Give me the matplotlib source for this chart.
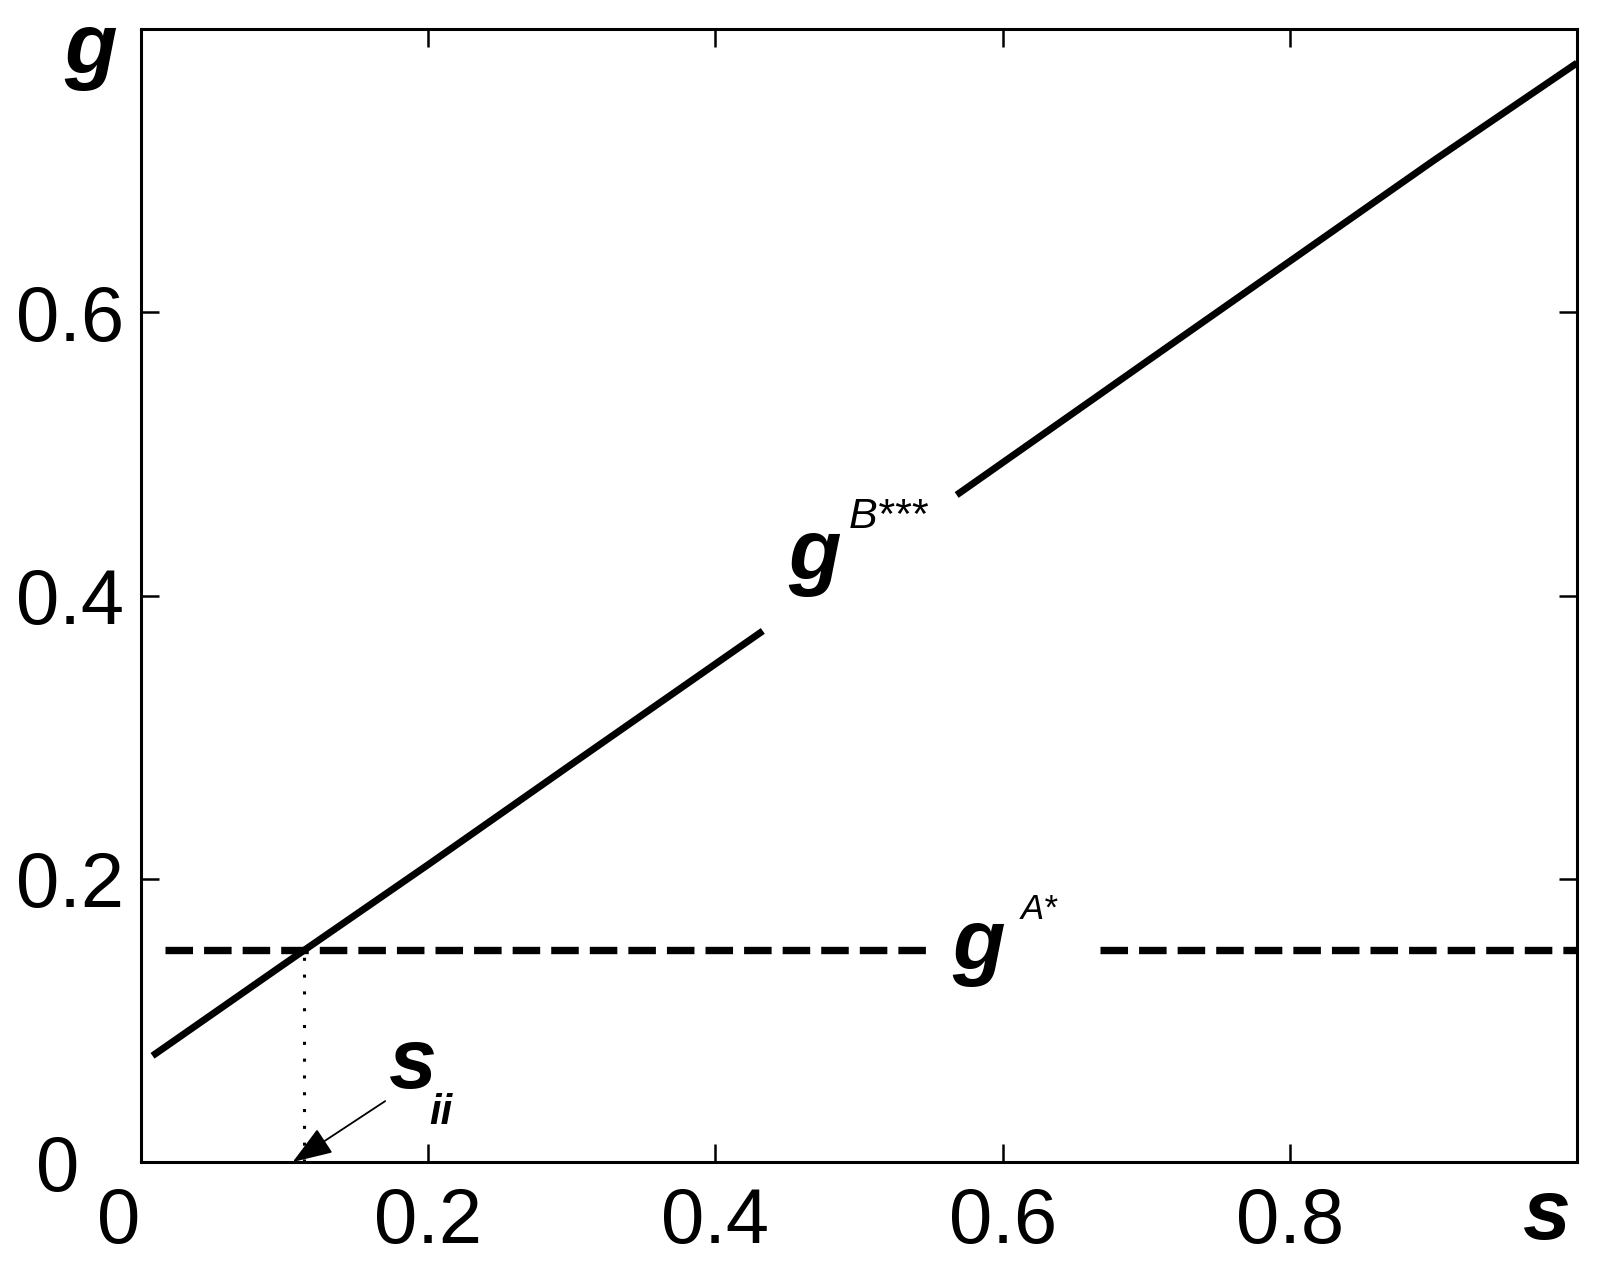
import numpy as np
import matplotlib
matplotlib.use("Agg")
from matplotlib import pyplot as plt
from matplotlib.transforms import ScaledTranslation


# DATA
# g^B*** curve, two pieces with a gap where its label sits
s_left = [0.008, 0.1, 0.2, 0.3, 0.433]
g_left = [0.075, 0.140, 0.210, 0.281, 0.375]
s_right = [0.568, 0.7, 0.8, 0.9, 1.0]
g_right = [0.471, 0.565, 0.636, 0.707, 0.776]

# g^A* level (dashed), with a gap for its label
gA_level = 0.15
sA_left = [0.017, 0.547]
sA_right = [0.668, 1.0]

# crossing point s_ii
s_ii = 0.1136

xticks = [0, 0.2, 0.4, 0.6, 0.8]
xtick_labels = ["0", "0.2", "0.4", "0.6", "0.8"]
yticks = [0, 0.2, 0.4, 0.6]
ytick_labels = ["0", "0.2", "0.4", "0.6"]


# STYLE
fam = "Liberation Sans"
tick_fs = 56
big_fs = 62
black = "#000000"

fig = plt.figure(figsize=(16.01, 12.84), dpi=100)
ax = fig.add_axes([0.0881, 0.095, 0.8969, 0.8824])

# curves
s_B = s_left + [np.nan] + s_right
g_B = g_left + [np.nan] + g_right
ax.plot(s_B, g_B, color=black, linewidth=5.0, solid_capstyle="butt")

s_A = sA_left + [np.nan] + sA_right
g_A = [gA_level, gA_level, np.nan, gA_level, gA_level]
ax.plot(s_A, g_A, color=black, linewidth=5.3, linestyle=(0, (3.74, 1.5)))

# dotted drop line from the crossing to the axis
ax.plot([s_ii, s_ii], [0, gA_level], color=black, linewidth=2.2, linestyle=(0, (1, 4.5)))

# arrow pointing at s_ii
ax.annotate("", xy=(s_ii - 0.008, 0.0), xytext=(0.17, 0.043),
            arrowprops=dict(arrowstyle="-|>,head_length=0.5,head_width=0.18",
                            mutation_scale=50, color=black, lw=1.3,
                            shrinkA=0, shrinkB=0),
            annotation_clip=False)

# curve labels
ax.text(0.451, 0.412, "g", fontsize=big_fs, family=fam, style="italic", weight="bold",
        va="baseline", ha="left")
ax.text(0.493, 0.448, "B***", fontsize=31, family=fam, style="italic", va="baseline", ha="left")
ax.text(0.565, 0.1366, "g", fontsize=big_fs, family=fam, style="italic", weight="bold",
        va="baseline", ha="left")
ax.text(0.6125, 0.1718, "A*", fontsize=25, family=fam, style="italic", va="baseline", ha="left")
ax.text(0.172, 0.052, "s", fontsize=big_fs, family=fam, style="italic", weight="bold",
        va="baseline", ha="left")
ax.text(0.201, 0.0268, "ii", fontsize=30, family=fam, style="italic", weight="bold",
        va="baseline", ha="left")

# axes cosmetics
ax.set_xlim(0, 1)
ax.set_ylim(0, 0.8)
ax.set_xticks(xticks)
ax.set_xticklabels(xtick_labels, fontsize=tick_fs, family=fam)
ax.set_yticks(yticks)
ax.set_yticklabels(ytick_labels, fontsize=tick_fs, family=fam)
ax.tick_params(axis="both", direction="in", length=13, width=1.8, top=True, right=True,
               color=black, labelcolor=black)
ax.tick_params(axis="x", pad=17)
ax.tick_params(axis="y", pad=12)
for sp in ax.spines.values():
    sp.set_linewidth(2.2)
    sp.set_color(black)

# axis letters
ax.set_ylabel("g", rotation=0, fontsize=big_fs, family=fam, style="italic", weight="bold",
              ha="left", va="baseline")
ax.yaxis.set_label_coords(-0.0536, 0.961)
ax.set_xlabel("s", fontsize=big_fs, family=fam, style="italic", weight="bold",
              ha="left", va="baseline")
ax.xaxis.set_label_coords(0.9617, -0.068)

# the two "0" labels sit a bit off in the original
xt0 = ax.xaxis.get_major_ticks()[0].label1
xt0.set_transform(xt0.get_transform() + ScaledTranslation(-0.22, 0, fig.dpi_scale_trans))
yt0 = ax.yaxis.get_major_ticks()[0].label1
yt0.set_transform(yt0.get_transform() + ScaledTranslation(-0.45, 0, fig.dpi_scale_trans))

fig.savefig("out.png", dpi=100)
